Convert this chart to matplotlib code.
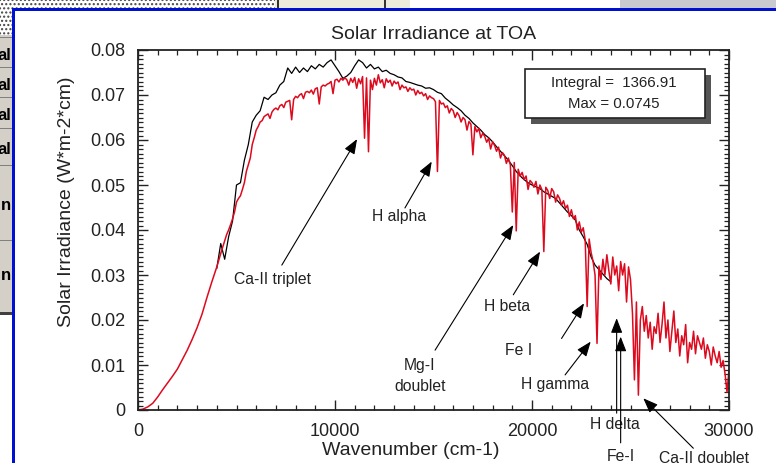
import matplotlib
matplotlib.use("Agg")
import matplotlib.pyplot as plt
import matplotlib.ticker as ticker
from matplotlib.patches import Rectangle

plt.rcParams['font.family'] = ['Liberation Sans', 'DejaVu Sans']

# ---- data ----
red_wn = [0, 250, 500, 750, 1000, 1250, 1500, 1750, 2000, 2250, 2500, 2750,
          3000, 3250, 3500, 3750, 4000, 4250, 4500] + list(range(4600, 30001, 100))
red_val = [0.0, 0.0002, 0.0007, 0.0015, 0.0029, 0.0045, 0.0060, 0.0075, 0.0091,
           0.0112, 0.0133, 0.0157, 0.0183, 0.0213, 0.0250, 0.0285, 0.0318, 0.0355, 0.0390,
           0.0400, 0.0412, 0.0425, 0.0440, 0.0462, 0.0470, 0.0476, 0.0490, 0.0505, 0.0530,  # 4600
           0.0545, 0.0560, 0.0590, 0.0605, 0.0622, 0.0630, 0.0640, 0.0643, 0.0652, 0.0655,  # 5600
           0.0658, 0.0648, 0.0662, 0.0668, 0.0671, 0.0667, 0.0676, 0.0679, 0.0672, 0.0684,  # 6600
           0.0686, 0.0688, 0.0645, 0.0690, 0.0697, 0.0694, 0.0700, 0.0703, 0.0692, 0.0706,  # 7600
           0.0708, 0.0705, 0.0711, 0.0702, 0.0714, 0.0716, 0.0680, 0.0718, 0.0722, 0.0720,  # 8600
           0.0724, 0.0726, 0.0730, 0.0703, 0.0733, 0.0735, 0.0729, 0.0737, 0.0733, 0.0738,  # 9600
           0.0734, 0.0722, 0.0737, 0.0728, 0.0739, 0.0715, 0.0736, 0.0725, 0.0741, 0.0604,  # 10600
           0.0738, 0.0574, 0.0733, 0.0712, 0.0737, 0.0722, 0.0745, 0.0727, 0.0734, 0.0716,  # 11600
           0.0736, 0.0728, 0.0733, 0.0720, 0.0731, 0.0725, 0.0729, 0.0712, 0.0722, 0.0716,  # 12600
           0.0718, 0.0708, 0.0716, 0.0711, 0.0713, 0.0700, 0.0710, 0.0703, 0.0706, 0.0698,  # 13600
           0.0703, 0.0690, 0.0698, 0.0694, 0.0692, 0.0685, 0.0530, 0.0688, 0.0680, 0.0682,  # 14600
           0.0672, 0.0676, 0.0660, 0.0670, 0.0665, 0.0650, 0.0661, 0.0654, 0.0640, 0.0650,  # 15600
           0.0645, 0.0622, 0.0641, 0.0635, 0.0567, 0.0630, 0.0618, 0.0626, 0.0605, 0.0615,  # 16600
           0.0608, 0.0595, 0.0604, 0.0580, 0.0596, 0.0588, 0.0575, 0.0584, 0.0560, 0.0572,  # 17600
           0.0566, 0.0548, 0.0560, 0.0545, 0.0440, 0.0550, 0.0398, 0.0535, 0.0520, 0.0528,  # 18600
           0.0512, 0.0520, 0.0490, 0.0510, 0.0505, 0.0495, 0.0508, 0.0480, 0.0500, 0.0490,  # 19600
           0.0352, 0.0495, 0.0488, 0.0470, 0.0492, 0.0485, 0.0462, 0.0478, 0.0470, 0.0455,  # 20600
           0.0465, 0.0448, 0.0455, 0.0430, 0.0445, 0.0425, 0.0432, 0.0400, 0.0418, 0.0395,  # 21600
           0.0405, 0.0378, 0.0230, 0.0380, 0.0350, 0.0330, 0.0300, 0.0148, 0.0320, 0.0290,  # 22600
           0.0335, 0.0300, 0.0345, 0.0310, 0.0280, 0.0340, 0.0300, 0.0320, 0.0265, 0.0330,  # 23600
           0.0300, 0.0325, 0.0240, 0.0318, 0.0290, 0.0215, 0.0067, 0.0240, 0.0033, 0.0200,  # 24600
           0.0230, 0.0175, 0.0210, 0.0160, 0.0195, 0.0135, 0.0185, 0.0170, 0.0215, 0.0150,  # 25600
           0.0190, 0.0240, 0.0160, 0.0200, 0.0130, 0.0175, 0.0220, 0.0150, 0.0180, 0.0120,  # 26600
           0.0165, 0.0145, 0.0190, 0.0105, 0.0150, 0.0135, 0.0175, 0.0125, 0.0165, 0.0150,  # 27600
           0.0135, 0.0160, 0.0115, 0.0145, 0.0130, 0.0100, 0.0140, 0.0120, 0.0105, 0.0130,  # 28600
           0.0095, 0.0110, 0.0080, 0.0040, 0.0090]                                          # 29600

black_wn = list(range(4000, 24001, 200))
black_val = [0.0315, 0.0370, 0.0335, 0.0385, 0.0420, 0.0500, 0.0505, 0.0555, 0.0590, 0.0640,
             0.0655, 0.0665, 0.0695, 0.0690, 0.0700, 0.0705, 0.0722, 0.0730, 0.0760, 0.0748,
             0.0762, 0.0750, 0.0760, 0.0752, 0.0765, 0.0758, 0.0768, 0.0762, 0.0772, 0.0778,
             0.0765, 0.0752, 0.0737, 0.0742, 0.0750, 0.0765, 0.0778, 0.0772, 0.0760, 0.0768,
             0.0758, 0.0762, 0.0752, 0.0755, 0.0748, 0.0745, 0.0740, 0.0738, 0.0730, 0.0728,
             0.0725, 0.0722, 0.0720, 0.0715, 0.0716, 0.0712, 0.0706, 0.0703, 0.0693, 0.0686,
             0.0678, 0.0672, 0.0665, 0.0655, 0.0648, 0.0638, 0.0630, 0.0622, 0.0612, 0.0605,
             0.0596, 0.0585, 0.0575, 0.0565, 0.0555, 0.0543, 0.0530, 0.0520, 0.0512, 0.0505,
             0.0500, 0.0496, 0.0492, 0.0485, 0.0480, 0.0475, 0.0470, 0.0460, 0.0450, 0.0440,
             0.0432, 0.0422, 0.0400, 0.0385, 0.0368, 0.0340, 0.0322, 0.0312, 0.0302, 0.0292,
             0.0285]

# line labels: text, text position, arrow tail, arrow tip (data coords)
line_labels = ["Ca-II triplet", "H alpha", "Mg-I\ndoublet", "H beta", "Fe I",
               "H gamma", "H delta", "Fe-I", "Ca-II doublet"]
label_pos = [(6850, 0.0291), (13250, 0.0429), (14300, 0.0075), (18720, 0.0230),
             (19340, 0.0133), (21170, 0.0056), (24220, -0.0033), (24520, -0.0104),
             (28730, -0.0108)]
arrow_tail = [(7300, 0.0322), (13550, 0.0449), (15080, 0.0133), (19050, 0.0256),
              (21500, 0.0159), (21680, 0.0078), (24297, -0.0007), (24500, -0.0073),
              (28190, -0.0085)]
arrow_tip = [(11120, 0.0602), (14910, 0.0552), (19050, 0.0411), (20410, 0.0352),
             (22640, 0.0237), (22980, 0.0152), (24297, 0.0204), (24500, 0.0163),
             (25650, 0.0026)]

integral = 1366.91
max_val = 0.0745

# ---- figure ----
fig = plt.figure(figsize=(7.76, 4.63), dpi=100)
W, H = 776.0, 463.0


def frect(x0, y0, x1, y1, **kw):
    # rectangle in pixel coords (top-left origin) for the window chrome
    r = Rectangle((x0 / W, 1 - y1 / H), (x1 - x0) / W, (y1 - y0) / H,
                  transform=fig.transFigure, **kw)
    fig.add_artist(r)


# window chrome around the plot
frect(0, 0, 275, 8, facecolor='white', edgecolor='#444', hatch='....', lw=0)
frect(0, 0, 12, 35, facecolor='white', edgecolor='#444', hatch='....', lw=0)
frect(275, 0, 410, 8, facecolor='#ecebdc', edgecolor='none')
frect(277, 0, 279, 8, facecolor='#333', edgecolor='none')
frect(384, 0, 386, 8, facecolor='#333', edgecolor='none')
frect(620, 0, 776, 8, facecolor='#c9cacf', edgecolor='none')
frect(0, 35, 12, 314, facecolor='#d4d0c8', edgecolor='none')
for yy in [37, 67, 97, 128, 165, 240]:
    frect(0, yy, 12, yy + 1, facecolor='#808080', edgecolor='none')
frect(0, 312, 12, 315, facecolor='#404040', edgecolor='none')
for yy, t in [(55, 'al'), (85, 'al'), (115, 'al'), (150, 'al'), (205, 'n'), (275, 'n')]:
    fig.text(11 / W, 1 - yy / H, t, ha='right', va='center', fontsize=12,
             fontweight='bold', color='black')
frect(12, 8, 776, 11, facecolor='#0010d0', edgecolor='none')
frect(12, 8, 15, 463, facecolor='#0010d0', edgecolor='none')

ax = fig.add_axes([138 / W, 1 - 410 / H, 591 / W, 360 / H])
ax.plot(black_wn, black_val, color='black', lw=0.9)
ax.plot(red_wn, red_val, color='#dd0a1e', lw=1.1)

ax.set_xlim(0, 30000)
ax.set_ylim(0, 0.08)
ax.set_title("Solar Irradiance at TOA", fontsize=14, color='#222', pad=8)
ax.set_xlabel("Wavenumber (cm-1)", fontsize=14, color='#222')
ax.set_ylabel("Solar Irradiance (W*m-2*cm)", fontsize=14, color='#222')
ax.xaxis.set_label_coords(0.462, -0.088)
ax.yaxis.set_label_coords(-0.107, 0.578)

ax.xaxis.set_major_locator(ticker.MultipleLocator(10000))
ax.xaxis.set_minor_locator(ticker.MultipleLocator(1000))
ax.yaxis.set_major_locator(ticker.MultipleLocator(0.01))
ax.yaxis.set_minor_locator(ticker.MultipleLocator(0.001))
ax.yaxis.set_major_formatter(ticker.FuncFormatter(
    lambda v, _: '0' if abs(v) < 1e-9 else f'{v:.2f}'))
ax.tick_params(which='both', direction='in', top=True, right=True,
               labelsize=13, labelcolor='#222', color='#222', pad=9)
ax.tick_params(which='major', length=7, width=1)
ax.tick_params(which='minor', length=3.5, width=0.9)
for s in ax.spines.values():
    s.set_linewidth(1.3)
    s.set_color('#222')

# integral / max box with drop shadow
ax.add_patch(Rectangle((0.665, 0.794), 0.304, 0.136, transform=ax.transAxes,
                       facecolor='#555', edgecolor='none', zorder=5))
ax.add_patch(Rectangle((0.655, 0.811), 0.304, 0.136, transform=ax.transAxes,
                       facecolor='white', edgecolor='#222', lw=1.2, zorder=6))
ax.text(0.805, 0.908, f"Integral =  {integral:.2f}", transform=ax.transAxes,
        ha='center', va='center', fontsize=10.8, color='#222', zorder=7)
ax.text(0.805, 0.850, f"Max = {max_val}", transform=ax.transAxes,
        ha='center', va='center', fontsize=10.8, color='#222', zorder=7)

# spectral line annotations
for txt, pos, tail, tip in zip(line_labels, label_pos, arrow_tail, arrow_tip):
    ax.annotate('', xy=tip, xytext=tail, annotation_clip=False,
                arrowprops=dict(arrowstyle='-|>,head_length=0.9,head_width=0.35',
                                color='black', lw=0.8, mutation_scale=10,
                                shrinkA=0, shrinkB=0))
    ax.text(pos[0], pos[1], txt, ha='center', va='center', fontsize=11.3,
            color='#222', clip_on=False, linespacing=1.5)

fig.savefig("out.png", dpi=100)
